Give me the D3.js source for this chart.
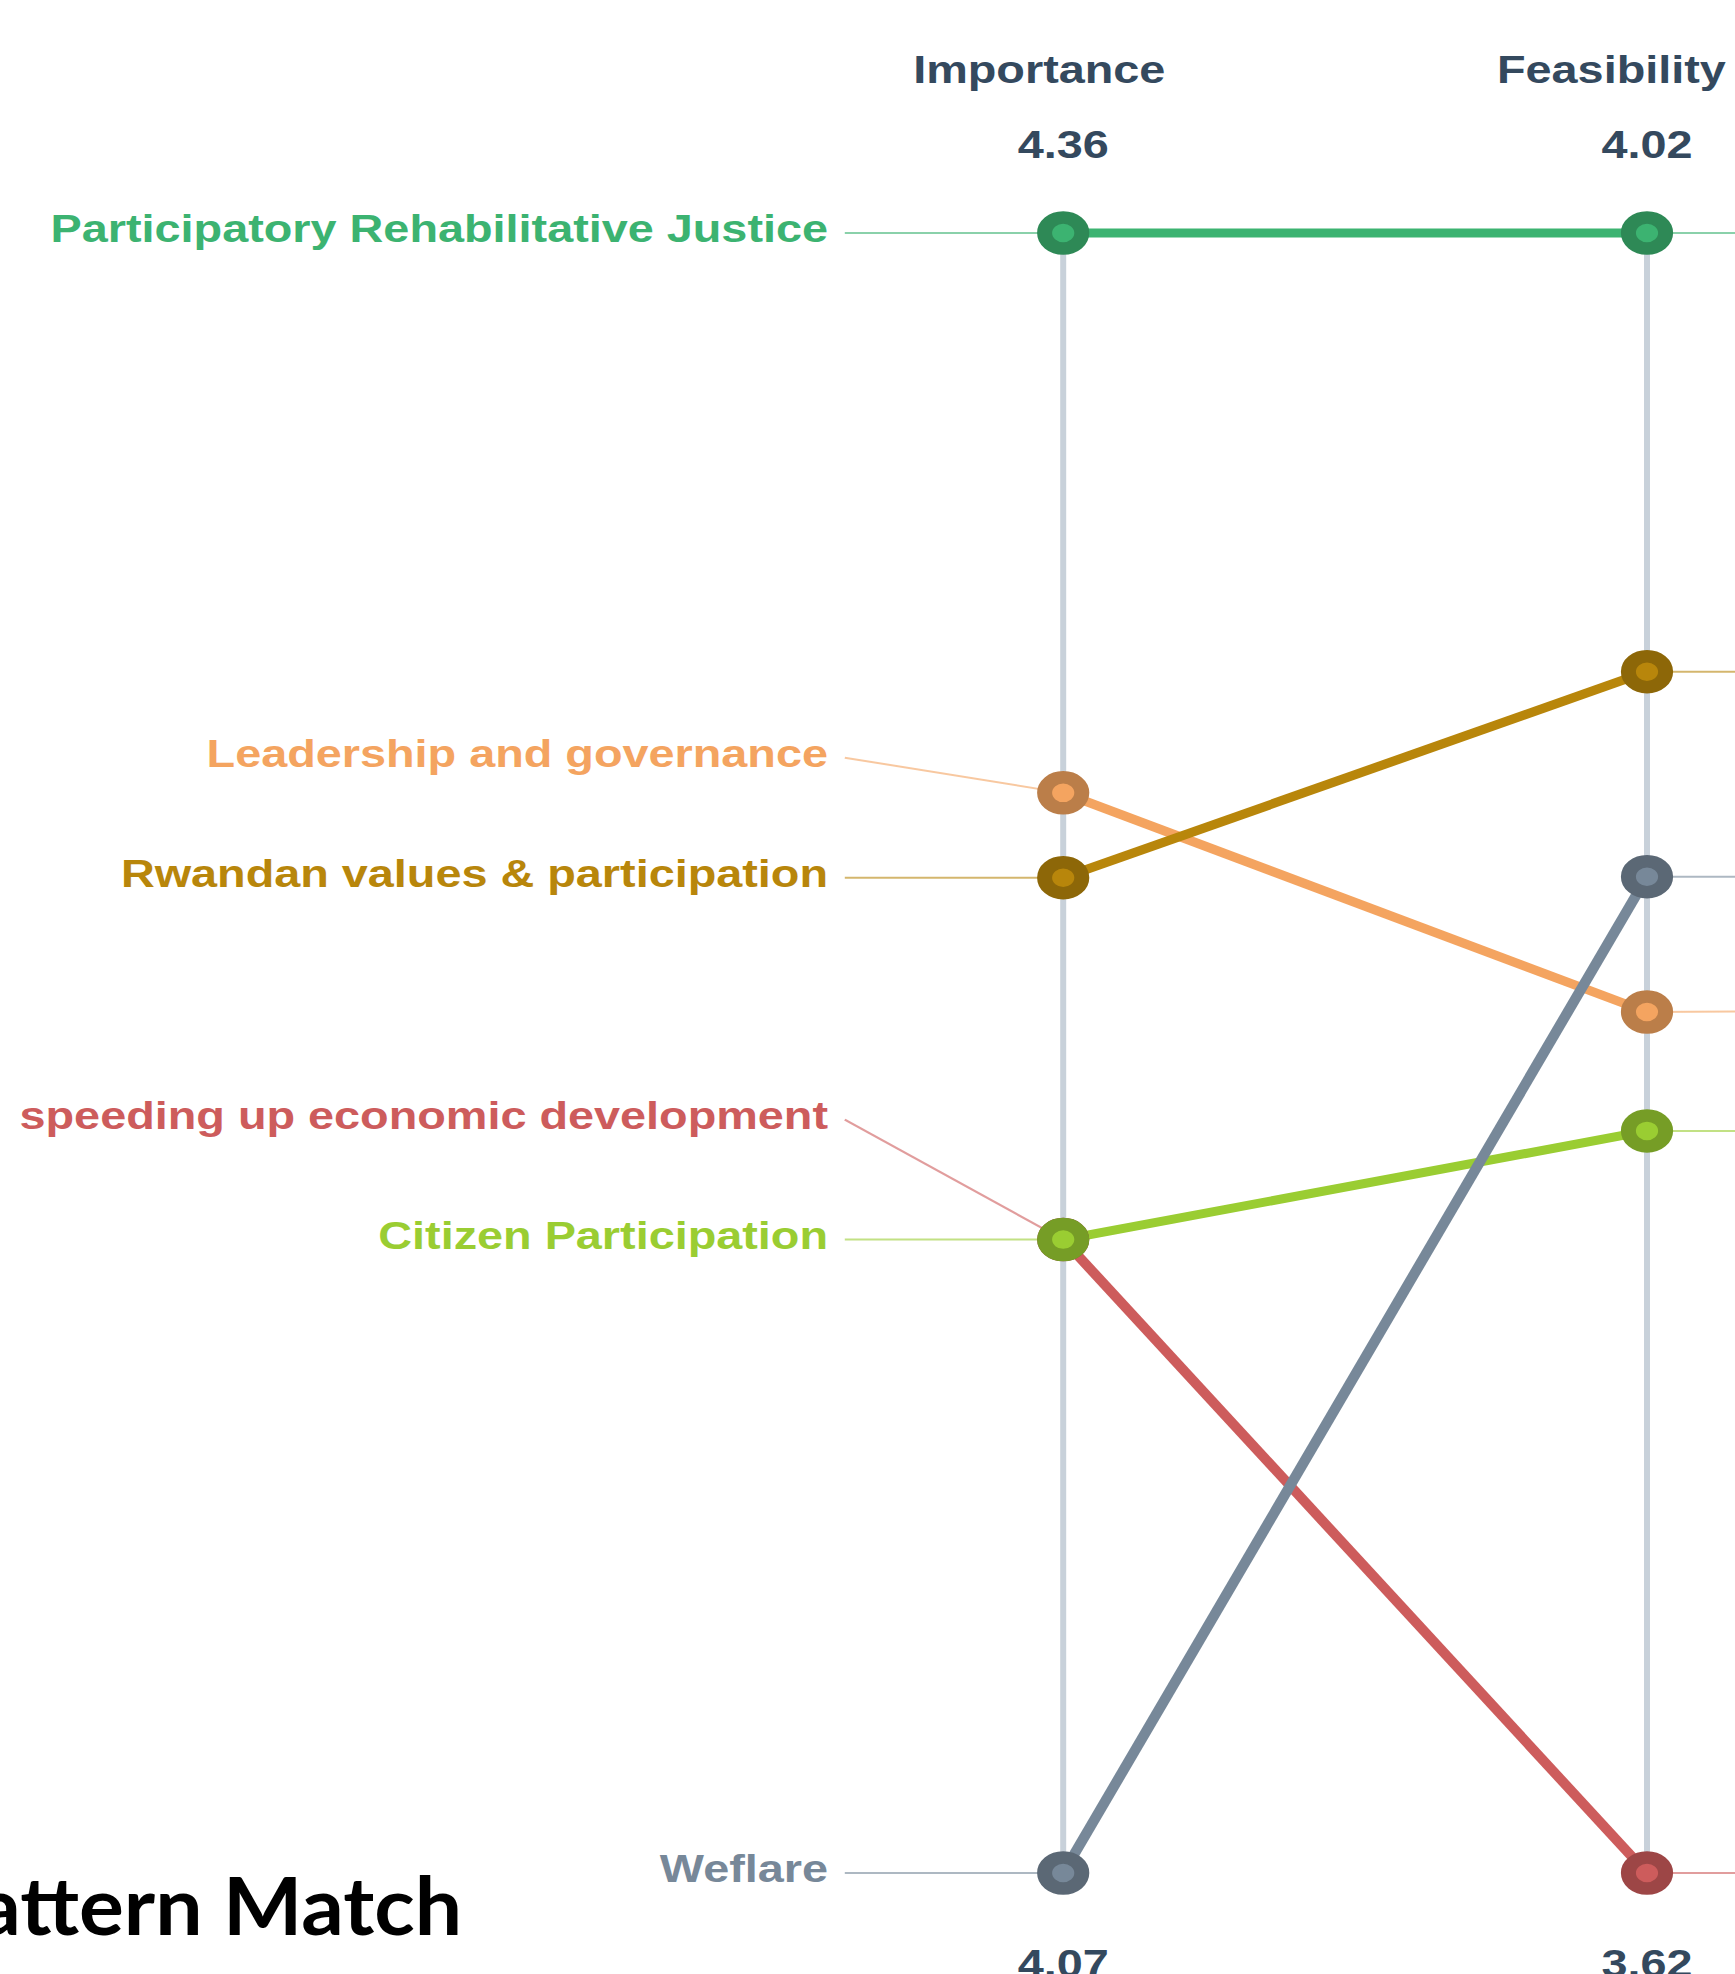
<!DOCTYPE html>
<html>
<head>
<meta charset="utf-8">
<script src="https://cdn.jsdelivr.net/npm/d3@7"></script>
<style>
    body { margin: 0; background: #ffffff; }
</style>
</head>
<body>
<svg id="chart"></svg>
<script>
// values
var categories = [
    "Participatory Rehabilitative Justice",
    "Leadership and governance",
    "Rwandan values & participation",
    "speeding up economic development",
    "Citizen Participation",
    "Weflare"
];
var importance = [4.36, 4.261, 4.246, 4.182, 4.182, 4.07];
var feasibility = [4.02, 3.83, 3.913, 3.62, 3.801, 3.863];
var colors = ["#3cb371", "#f4a460", "#b8860b", "#cd5c5c", "#9acd32", "#778899"];
var columns = ["Importance", "Feasibility"];

var dimensions = {
    width: 1735,
    height: 1974,
    stretch: 1.2,   // the whole picture is a bit wider than tall
    top: 233,
    bottom: 1873,
    labelGap: 120
};

var svg = d3.select("#chart")
    .attr("width", dimensions.width)
    .attr("height", dimensions.height)
    .style("display", "block");

var chart = svg.append("g")
    .attr("transform", "scale(" + dimensions.stretch + ",1)");

var xScale = d3.scalePoint()
    .domain(columns)
    .range([886, 1372.5]);

// one y scale per column, top = max, bottom = min
var yImportance = d3.scaleLinear()
    .domain(d3.extent(importance))
    .range([dimensions.bottom, dimensions.top]);
var yFeasibility = d3.scaleLinear()
    .domain(d3.extent(feasibility))
    .range([dimensions.bottom, dimensions.top]);

var rows = categories.map(function(name, i) {
    return {
        name: name,
        color: colors[i],
        y1: yImportance(importance[i]),
        y2: yFeasibility(feasibility[i])
    };
});

// push labels up so they don't collide (bottom one stays put)
function relax(ys) {
    var order = d3.range(ys.length).sort(function(a, b) { return (ys[b] - ys[a]) || (b - a); });
    var out = ys.slice();
    var prev = null;
    order.forEach(function(idx) {
        if (prev !== null && out[idx] > prev - dimensions.labelGap) {
            out[idx] = prev - dimensions.labelGap;
        }
        prev = out[idx];
    });
    return out;
}

var leftY = relax(rows.map(function(d) { return d.y1; }));
var rightY = relax(rows.map(function(d) { return d.y2; }));
rows.forEach(function(d, i) { d.ly = leftY[i]; d.ry = rightY[i]; });

var x1 = xScale("Importance");
var x2 = xScale("Feasibility");
var connectorLen = 182;
var labelPad = 14;

// axis lines
chart.selectAll(".axis-line")
    .data(columns)
    .enter()
    .append("line")
    .attr("class", "axis-line")
    .attr("x1", function(d) { return xScale(d); })
    .attr("x2", function(d) { return xScale(d); })
    .attr("y1", dimensions.top)
    .attr("y2", dimensions.bottom)
    .attr("stroke", "#c8d1da")
    .attr("stroke-width", 5);

// column titles
chart.selectAll(".col-title")
    .data(columns)
    .enter()
    .append("text")
    .attr("class", "col-title")
    .attr("x", function(d) { return xScale(d) - 125; })
    .attr("y", 83)
    .attr("text-anchor", "start")
    .style("font-family", "'Liberation Sans', Arial, sans-serif")
    .style("font-weight", "bold")
    .style("font-size", "39px")
    .attr("fill", "#34495e")
    .text(function(d) { return d; });

// max / min values at the ends of each axis
var ends = [
    { col: "Importance", v: d3.max(importance), y: 158 },
    { col: "Feasibility", v: d3.max(feasibility), y: 158 },
    { col: "Importance", v: d3.min(importance), y: 1977 },
    { col: "Feasibility", v: d3.min(feasibility), y: 1977 }
];
chart.selectAll(".end-value")
    .data(ends)
    .enter()
    .append("text")
    .attr("class", "end-value")
    .attr("x", function(d) { return xScale(d.col); })
    .attr("y", function(d) { return d.y; })
    .attr("text-anchor", "middle")
    .style("font-family", "'Liberation Sans', Arial, sans-serif")
    .style("font-weight", "bold")
    .style("font-size", "39px")
    .attr("fill", "#34495e")
    .text(function(d) { return d3.format(".2f")(d.v); });

// thin connectors from labels to dots
chart.selectAll(".conn-left")
    .data(rows)
    .enter()
    .append("line")
    .attr("class", "conn-left")
    .attr("x1", x1 - connectorLen).attr("y1", function(d) { return d.ly; })
    .attr("x2", x1).attr("y2", function(d) { return d.y1; })
    .attr("stroke", function(d) { return d.color; })
    .attr("stroke-opacity", 0.6)
    .attr("stroke-width", 2);

chart.selectAll(".conn-right")
    .data(rows)
    .enter()
    .append("line")
    .attr("class", "conn-right")
    .attr("x1", x2).attr("y1", function(d) { return d.y2; })
    .attr("x2", x2 + connectorLen).attr("y2", function(d) { return d.ry; })
    .attr("stroke", function(d) { return d.color; })
    .attr("stroke-opacity", 0.6)
    .attr("stroke-width", 2);

// slope lines
chart.selectAll(".slope")
    .data(rows)
    .enter()
    .append("line")
    .attr("class", "slope")
    .attr("x1", x1).attr("y1", function(d) { return d.y1; })
    .attr("x2", x2).attr("y2", function(d) { return d.y2; })
    .attr("stroke", function(d) { return d.color; })
    .attr("stroke-width", 9);

// dots on both axes
var dots = [];
rows.forEach(function(d) {
    dots.push({ x: x1, y: d.y1, color: d.color });
    dots.push({ x: x2, y: d.y2, color: d.color });
});
chart.selectAll(".dot")
    .data(dots)
    .enter()
    .append("circle")
    .attr("class", "dot")
    .attr("cx", function(d) { return d.x; })
    .attr("cy", function(d) { return d.y; })
    .attr("r", 15.5)
    .attr("fill", function(d) { return d.color; })
    .attr("stroke", function(d) { return d3.color(d.color).darker(0.75); })
    .attr("stroke-width", 12.5);

// category labels on the left
chart.selectAll(".label")
    .data(rows)
    .enter()
    .append("text")
    .attr("class", "label")
    .attr("x", x1 - connectorLen - labelPad)
    .attr("y", function(d) { return d.ly; })
    .attr("dy", "0.23em")
    .attr("text-anchor", "end")
    .style("font-family", "'Liberation Sans', Arial, sans-serif")
    .style("font-weight", "bold")
    .style("font-size", "39px")
    .attr("fill", function(d) { return d.color; })
    .text(function(d) { return d.name; });

// slide title, cut off on the left like the original
svg.append("text")
    .attr("transform", "translate(462,1935) scale(1.05,1)")
    .attr("text-anchor", "end")
    .style("font-family", "Lato, 'Open Sans', sans-serif")
    .style("font-weight", "bold")
    .style("font-size", "80px")
    .attr("fill", "#000000")
    .text("Pattern Match");
</script>
</body>
</html>
